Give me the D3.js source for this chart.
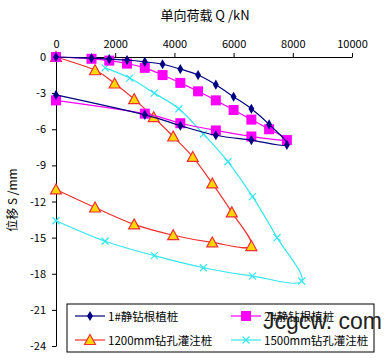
<!DOCTYPE html>
<html lang="zh">
<head>
<meta charset="UTF-8">
<title>单向荷载-位移曲线</title>
<script src="https://d3js.org/d3.v7.min.js"></script>
<style>
  body { margin: 0; background: #fff; }
  text { font-family: "Noto Sans CJK SC", "DejaVu Sans", sans-serif; fill: #000; }
  .tick text { font-size: 11px; }
  .axis path, .axis line { stroke: #000; }
</style>
</head>
<body>
<svg id="chart"></svg>
<script>
// 数据 (荷载 kN, 位移 mm)
var names = ["1#静钻根植桩", "2#静钻根植桩", "1200mm钻孔灌注桩", "1500mm钻孔灌注桩"];

var q1 = [0, 1200, 1800, 2400, 3000, 3600, 4200, 4800, 5400, 6000, 6600, 7200, 7800, 6600, 5400, 4200, 3000, 0];
var s1 = [0, -0.1, -0.17, -0.25, -0.4, -0.6, -1.0, -1.5, -2.3, -3.3, -4.3, -5.6, -7.3, -6.9, -6.5, -5.7, -4.8, -3.15];

var q2 = [0, 1200, 1800, 2400, 3000, 3600, 4200, 4800, 5400, 6000, 6600, 7200, 7800, 6600, 5400, 4200, 3000, 0];
var s2 = [0, -0.15, -0.3, -0.55, -0.9, -1.5, -2.15, -2.85, -3.6, -4.4, -5.2, -6.0, -6.9, -6.6, -6.1, -5.5, -4.7, -3.6];

var q3 = [0, 1320, 1980, 2640, 3300, 3960, 4620, 5280, 5940, 6600, 5280, 3960, 2640, 1320, 0];
var s3 = [0, -1.1, -2.2, -3.5, -5.0, -6.6, -8.3, -10.5, -12.9, -15.7, -15.4, -14.8, -13.9, -12.5, -11.0];

var q4 = [1660, 2490, 3320, 4150, 4980, 5810, 6640, 7470, 8300, 6640, 4980, 3320, 1660, 0];
var s4 = [-0.9, -1.75, -3.0, -4.3, -6.4, -8.7, -11.6, -15.0, -18.6, -18.2, -17.5, -16.5, -15.3, -13.6];

var xTicks = [0, 2000, 4000, 6000, 8000, 10000];
var yTicks = [0, -3, -6, -9, -12, -15, -18, -21, -24];

var width = 390, height = 363;
var svg = d3.select("#chart").attr("width", width).attr("height", height);

var x = d3.scaleLinear().domain([0, 10000]).range([56, 352]);
var y = d3.scaleLinear().domain([0, -24]).range([57, 346]);

// 坐标轴
svg.append("g").attr("class", "axis")
  .attr("transform", "translate(0,57)")
  .call(d3.axisTop(x).tickValues(xTicks).tickFormat(d3.format("d"))
    .tickSize(4).tickSizeOuter(0).tickPadding(5));

var yAxis = svg.append("g").attr("class", "axis")
  .attr("transform", "translate(56,0)")
  .call(d3.axisLeft(y).tickValues(yTicks).tickSize(4).tickSizeOuter(0).tickPadding(6));
yAxis.selectAll(".tick text").text(d => d === 0 ? "0" : "-" + Math.abs(d));

svg.append("text").attr("x", 205).attr("y", 20).attr("text-anchor", "middle")
  .style("font-size", "13px").text("单向荷载 Q /kN");
svg.append("text").attr("transform", "translate(17,200) rotate(-90)")
  .attr("text-anchor", "middle").style("font-size", "12px").text("位移 S /mm");

var line = d3.line().x(d => x(d[0])).y(d => y(d[1])).curve(d3.curveCatmullRom.alpha(0));

var series = [
  { q: q4, s: s4, color: "#33E6F0", mark: "x" },
  { q: q3, s: s3, color: "#F03030", mark: "tri" },
  { q: q2, s: s2, color: "#FF00FF", mark: "sq" },
  { q: q1, s: s1, color: "#000080", mark: "dia" }
];

function drawMark(g, type, color, cx, cy) {
  if (type === "dia") {
    g.append("path").attr("d", d3.symbol(d3.symbolDiamond, 30)())
      .attr("transform", "translate(" + cx + "," + cy + ")").attr("fill", color);
  } else if (type === "sq") {
    g.append("rect").attr("x", cx - 5).attr("y", cy - 5).attr("width", 10).attr("height", 10)
      .attr("fill", color);
  } else if (type === "tri") {
    g.append("path").attr("d", "M0,-5.5L5.5,4.5L-5.5,4.5Z")
      .attr("transform", "translate(" + cx + "," + cy + ")")
      .attr("fill", "#FFD800").attr("stroke", color).attr("stroke-width", 1.2);
  } else {
    g.append("path").attr("d", "M-3.5,-3.5L3.5,3.5M-3.5,3.5L3.5,-3.5")
      .attr("transform", "translate(" + cx + "," + cy + ")")
      .attr("stroke", color).attr("stroke-width", 1.2);
  }
}

series.forEach(function (sr) {
  var pts = sr.q.map((v, i) => [v, sr.s[i]]);
  svg.append("path").datum(pts).attr("d", line)
    .attr("fill", "none").attr("stroke", sr.color).attr("stroke-width", 1.2);
  var g = svg.append("g");
  pts.forEach(p => drawMark(g, sr.mark, sr.color, x(p[0]), y(p[1])));
});

// 图例
var lg = svg.append("g");
lg.append("rect").attr("x", 67).attr("y", 304).attr("width", 307).attr("height", 48)
  .attr("fill", "#fff").attr("stroke", "#000").attr("stroke-width", 1);
var legendPos = [[75, 316], [231, 316], [75, 340], [231, 340]];
var legendSeries = [series[3], series[2], series[1], series[0]];
legendSeries.forEach(function (sr, i) {
  var lx = legendPos[i][0], ly = legendPos[i][1];
  lg.append("line").attr("x1", lx).attr("x2", lx + 30).attr("y1", ly).attr("y2", ly)
    .attr("stroke", sr.color).attr("stroke-width", 1.2);
  drawMark(lg, sr.mark, sr.color, lx + 15, ly);
  lg.append("text").attr("x", lx + 33).attr("y", ly + 4.5)
    .style("font-size", "11.5px").text(names[i]);
});

// 水印
svg.append("text").attr("x", 263).attr("y", 329)
  .style("font-family", "'Liberation Sans', Arial, sans-serif")
  .style("font-size", "23px").style("fill", "#222").text("Jcgcw. com");
</script>
</body>
</html>
